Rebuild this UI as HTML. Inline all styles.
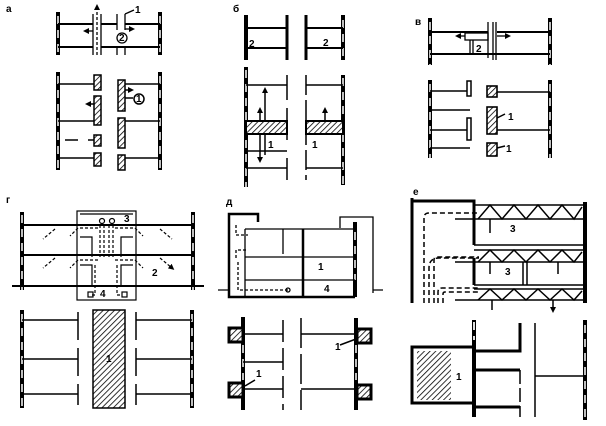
<!DOCTYPE html>
<html><head><meta charset="utf-8"><style>
html,body{margin:0;padding:0;background:#fff;width:606px;height:426px;overflow:hidden}
svg{display:block}
text{font-family:"Liberation Sans",sans-serif;font-weight:bold;font-size:10px;fill:#000}
</style></head><body>
<svg width="606" height="426" viewBox="0 0 606 426" xmlns="http://www.w3.org/2000/svg">
<defs>
<pattern id="h" width="4" height="4" patternUnits="userSpaceOnUse" patternTransform="rotate(45)">
<rect width="4" height="4" fill="#fff"/><line x1="0" y1="0" x2="0" y2="4" stroke="#000" stroke-width="1.6"/></pattern>
<marker id="a" markerWidth="6" markerHeight="6" refX="3" refY="3" orient="auto" markerUnits="userSpaceOnUse"><path d="M0,0L6,3L0,6z" fill="#000"/></marker>
</defs>
<g stroke="#000" fill="none">
<g stroke-width="4">
<line x1="58" y1="12" x2="58" y2="55"/><line x1="160" y1="12" x2="160" y2="55"/>
<line x1="58" y1="72" x2="58" y2="170"/><line x1="160" y1="72" x2="160" y2="170"/>
<line x1="246" y1="15" x2="246" y2="60"/><line x1="343" y1="15" x2="343" y2="60"/>
<line x1="246" y1="67" x2="246" y2="187"/><line x1="343" y1="75" x2="343" y2="185"/>
<line x1="430" y1="18" x2="430" y2="65"/><line x1="550" y1="18" x2="550" y2="65"/>
<line x1="430" y1="80" x2="430" y2="158"/><line x1="550" y1="80" x2="550" y2="158"/>
<line x1="22" y1="212" x2="22" y2="290"/><line x1="193" y1="212" x2="193" y2="290"/>
<line x1="22" y1="310" x2="22" y2="408"/><line x1="192" y1="310" x2="192" y2="408"/>
<line x1="355" y1="222" x2="355" y2="297"/>
<line x1="243" y1="317" x2="243" y2="410"/><line x1="356" y1="318" x2="356" y2="410"/>
<line x1="585" y1="202" x2="585" y2="303"/><line x1="585" y1="320" x2="585" y2="420"/>
<line x1="474" y1="320" x2="474" y2="417"/>
</g>
<g stroke="#fff" stroke-width="1.5" stroke-dasharray="8 6">
<line x1="58" y1="16" x2="58" y2="55"/><line x1="160" y1="16" x2="160" y2="55"/>
<line x1="58" y1="76" x2="58" y2="170"/><line x1="160" y1="76" x2="160" y2="170"/>
<line x1="343" y1="20" x2="343" y2="60"/><line x1="246" y1="70" x2="246" y2="187"/><line x1="343" y1="78" x2="343" y2="185"/>
<line x1="430" y1="22" x2="430" y2="65"/><line x1="550" y1="22" x2="550" y2="65"/>
<line x1="430" y1="84" x2="430" y2="158"/><line x1="550" y1="84" x2="550" y2="158"/>
<line x1="22" y1="215" x2="22" y2="290"/><line x1="193" y1="215" x2="193" y2="290"/>
<line x1="22" y1="314" x2="22" y2="408"/><line x1="192" y1="314" x2="192" y2="408"/>
<line x1="355" y1="232" x2="355" y2="280"/><line x1="243" y1="345" x2="243" y2="380"/><line x1="356" y1="345" x2="356" y2="380"/>
<line x1="585" y1="325" x2="585" y2="420"/><line x1="474" y1="322" x2="474" y2="340"/>
</g>
<g stroke-width="2"><line x1="58" y1="24" x2="93" y2="24"/><line x1="101" y1="24" x2="117" y2="24"/><line x1="125" y1="24" x2="160" y2="24"/>
<line x1="58" y1="47" x2="93" y2="47"/><line x1="101" y1="47" x2="160" y2="47"/></g>
<g stroke-width="1.3"><line x1="93" y1="14" x2="93" y2="55"/><line x1="101" y1="14" x2="101" y2="55"/>
<line x1="117" y1="14" x2="117" y2="30"/><line x1="125" y1="14" x2="125" y2="30"/><line x1="117" y1="48" x2="117" y2="55"/><line x1="125" y1="48" x2="125" y2="55"/>
<line x1="97" y1="55" x2="97" y2="7" stroke-dasharray="3 2" marker-end="url(#a)"/>
<line x1="93" y1="31" x2="86" y2="31" marker-end="url(#a)"/><line x1="125" y1="29" x2="132" y2="29" marker-end="url(#a)"/>
<circle cx="122" cy="38" r="5"/><line x1="125" y1="14" x2="134" y2="10"/></g>
<g stroke-width="1.5"><line x1="58" y1="84" x2="94" y2="84"/><line x1="58" y1="121" x2="94" y2="121"/><line x1="65" y1="140" x2="78" y2="140"/><line x1="88" y1="140" x2="94" y2="140"/><line x1="58" y1="158" x2="94" y2="158"/>
<line x1="125" y1="84" x2="160" y2="84"/><line x1="125" y1="121" x2="160" y2="121"/><line x1="125" y1="158" x2="160" y2="158"/>
<line x1="94" y1="104" x2="88" y2="104" marker-end="url(#a)"/><line x1="125" y1="90" x2="131" y2="90" marker-end="url(#a)"/><line x1="125" y1="98" x2="133" y2="98"/><circle cx="139" cy="99" r="5"/></g>
<g fill="url(#h)" stroke-width="1.5">
<rect x="94" y="75" width="7" height="15"/><rect x="94" y="96" width="7" height="29"/><rect x="94" y="135" width="7" height="11"/><rect x="94" y="153" width="7" height="13"/>
<rect x="118" y="80" width="7" height="31"/><rect x="118" y="118" width="7" height="30"/><rect x="118" y="155" width="7" height="15"/></g>
<g stroke-width="2"><line x1="246" y1="28" x2="287" y2="28"/><line x1="246" y1="48" x2="287" y2="48"/><line x1="306" y1="28" x2="343" y2="28"/><line x1="306" y1="48" x2="343" y2="48"/></g>
<g stroke-width="3"><line x1="287" y1="15" x2="287" y2="60"/><line x1="306" y1="15" x2="306" y2="60"/></g>
<g stroke-width="1.5"><line x1="246" y1="85" x2="287" y2="85"/><line x1="246" y1="151" x2="287" y2="151"/><line x1="246" y1="168" x2="287" y2="168"/>
<line x1="306" y1="85" x2="343" y2="85"/><line x1="306" y1="168" x2="343" y2="168"/>
<line x1="287" y1="75" x2="287" y2="100"/><line x1="287" y1="108" x2="287" y2="140"/><line x1="287" y1="158" x2="287" y2="180"/><line x1="306" y1="75" x2="306" y2="180" stroke-dasharray="20 5"/>
<line x1="265" y1="155" x2="265" y2="90" marker-end="url(#a)"/><line x1="260" y1="120" x2="260" y2="110" marker-end="url(#a)"/><line x1="260" y1="134" x2="260" y2="160" marker-end="url(#a)"/><line x1="325" y1="120" x2="325" y2="110" marker-end="url(#a)"/></g>
<rect x="246" y="121" width="41" height="13" fill="url(#h)" stroke-width="2"/><rect x="306" y="121" width="37" height="13" fill="url(#h)" stroke-width="2"/>
<g stroke-width="2"><line x1="430" y1="32" x2="488" y2="32"/><line x1="497" y1="32" x2="550" y2="32"/><line x1="430" y1="54" x2="550" y2="54"/></g>
<g stroke-width="1.3"><line x1="488" y1="22" x2="488" y2="58"/><line x1="493" y1="22" x2="493" y2="60"/><line x1="496" y1="22" x2="496" y2="60"/>
<rect x="465" y="33" width="23" height="7"/><line x1="470" y1="40" x2="470" y2="54"/><line x1="473" y1="40" x2="473" y2="54"/>
<line x1="465" y1="36" x2="458" y2="36" marker-end="url(#a)"/><line x1="497" y1="36" x2="508" y2="36" marker-end="url(#a)"/></g>
<g stroke-width="1.5"><line x1="430" y1="91" x2="467" y2="91"/><line x1="430" y1="110" x2="470" y2="110"/><line x1="430" y1="130" x2="467" y2="130"/><line x1="430" y1="148" x2="470" y2="148"/>
<line x1="497" y1="92" x2="550" y2="92"/><line x1="497" y1="130" x2="550" y2="130"/>
<rect x="467" y="81" width="4" height="15"/><rect x="467" y="118" width="4" height="22"/>
<line x1="497" y1="118" x2="505" y2="114"/><line x1="497" y1="148" x2="505" y2="146"/></g>
<g fill="url(#h)" stroke-width="1.6"><rect x="487" y="86" width="10" height="11"/><rect x="487" y="107" width="10" height="27"/><rect x="487" y="143" width="10" height="13"/></g>
<g stroke-width="2"><line x1="22" y1="225" x2="193" y2="225"/><line x1="22" y1="255" x2="193" y2="255"/><line x1="12" y1="286" x2="204" y2="286"/></g>
<g stroke-width="1.2"><rect x="77" y="211" width="59" height="89"/><line x1="80" y1="214" x2="133" y2="214"/>
<path d="M100 225v32M104 225v32M109 225v32M113 225v32" stroke-dasharray="3 2"/>
<path d="M80 237h12v20M133 237h-12v20M80 265h12v20M133 265h-12v20"/>
<path d="M98 228h-20l-8 8M115 228h20l8 8M98 260h-20l-8 8M115 260h20l8 8M95 265v30h-5M117 265v30h5M55 229l-12 10M160 229l12 10M55 258l-12 10M160 258l12 10" stroke-dasharray="3 2" marker-end="url(#a)"/>
<circle cx="102" cy="221" r="2.5"/><circle cx="112" cy="221" r="2.5"/><rect x="88" y="292" width="5" height="5"/><rect x="122" y="292" width="5" height="5"/></g>
<g stroke-width="1.5"><line x1="22" y1="320" x2="78" y2="320"/><line x1="22" y1="359" x2="78" y2="359"/><line x1="22" y1="394" x2="78" y2="394"/>
<line x1="136" y1="320" x2="192" y2="320"/><line x1="136" y1="359" x2="192" y2="359"/><line x1="136" y1="394" x2="192" y2="394"/>
<line x1="78" y1="312" x2="78" y2="405" stroke-dasharray="28 8"/><line x1="136" y1="312" x2="136" y2="405" stroke-dasharray="28 8"/></g>
<rect x="93" y="310" width="32" height="98" fill="url(#h)" stroke-width="1.5"/>
<g stroke-width="2.5"><path d="M258 222V214H229V297H355M303 229V297"/></g>
<g stroke-width="1.3"><line x1="245" y1="229" x2="355" y2="229"/><line x1="245" y1="257" x2="355" y2="257"/><line x1="245" y1="280" x2="355" y2="280"/><line x1="245" y1="229" x2="245" y2="297"/>
<line x1="283" y1="229" x2="283" y2="254"/><path d="M340 228V217H373V293M373 290h10M228 290h-10"/>
<path d="M236 225v10h12M236 258v-8h12M238 262v28h50" stroke-dasharray="3 2"/><circle cx="288" cy="290" r="2"/></g>
<g stroke-width="1.5"><line x1="243" y1="334" x2="283" y2="334"/><line x1="243" y1="362" x2="283" y2="362"/><line x1="243" y1="389" x2="283" y2="389"/>
<line x1="283" y1="320" x2="283" y2="410" stroke-dasharray="22 6"/><line x1="301" y1="318" x2="301" y2="410" stroke-dasharray="30 6"/>
<line x1="301" y1="334" x2="356" y2="334"/><line x1="301" y1="389" x2="356" y2="389"/><line x1="255" y1="380" x2="245" y2="386"/><line x1="340" y1="345" x2="356" y2="339"/></g>
<g fill="url(#h)" stroke-width="3"><rect x="229" y="328" width="14" height="14"/><rect x="229" y="383" width="14" height="14"/><rect x="357" y="329" width="14" height="14"/><rect x="357" y="385" width="14" height="14"/></g>
<g stroke-width="3"><path d="M412 198V303M412 201H474V245M474 258V285"/></g>
<g stroke-width="1.5"><line x1="474" y1="205" x2="585" y2="205"/><line x1="455" y1="219" x2="585" y2="219"/><line x1="474" y1="245" x2="585" y2="245"/>
<line x1="474" y1="250" x2="585" y2="250"/><line x1="455" y1="262" x2="585" y2="262"/><line x1="474" y1="285" x2="585" y2="285"/><line x1="474" y1="289" x2="585" y2="289"/><line x1="455" y1="300" x2="585" y2="300"/>
<path d="M478 219l12-14 12 14 12-14 12 14 12-14 12 14 12-14 12 14 8-12M478 262l12-12 12 12 12-12 12 12 12-12 12 12 12-12 12 12 8-10M478 300l12-11 12 11 12-11 12 11 12-11 12 11 12-11 12 11 8-9"/>
<line x1="523" y1="262" x2="523" y2="285"/><line x1="527" y1="262" x2="527" y2="285"/>
<path d="M490 219v14M490 262v12M558 262v12M492 300v10M553 300v10" marker-end="url(#a)"/>
<path d="M424 303V218q0-5 5-5h50M429 303V268q0-10 10-10h40M434 303V260q0-3 3-3h42M438 303V292q0-4 4-4h36M443 303V294q0-2 2-2h34" stroke-dasharray="5 3"/></g>
<g stroke-width="3"><path d="M474 347H412V403H474M474 351H520V323M474 370H520M474 407H520"/></g>
<g stroke-width="1.5"><line x1="520" y1="370" x2="520" y2="417" stroke-dasharray="14 4"/><line x1="535" y1="323" x2="535" y2="417"/><line x1="535" y1="376" x2="585" y2="376"/></g>
<rect x="417" y="351" width="34" height="49" fill="url(#h)" stroke="none"/>
</g>
<g stroke="#fff" stroke-width="1.5" stroke-dasharray="8 6"><line x1="474" y1="322" x2="474" y2="340"/></g>
<text x="6" y="12" font-size="7">а</text><text x="233" y="12" font-size="7">б</text><text x="415" y="25" font-size="7">в</text>
<text x="6" y="203" font-size="7">г</text><text x="226" y="205" font-size="7">д</text><text x="413" y="195" font-size="7">е</text>
<text x="135" y="13">1</text><text x="119" y="41" font-size="7">2</text><text x="136" y="102" font-size="7">1</text>
<text x="249" y="47">2</text><text x="323" y="46">2</text><text x="268" y="148">1</text><text x="312" y="148">1</text>
<text x="476" y="52">2</text><text x="508" y="120">1</text><text x="506" y="152">1</text>
<text x="124" y="222">3</text><text x="152" y="276">2</text><text x="100" y="297">4</text><text x="106" y="362" fill="#fff">1</text>
<text x="318" y="270">1</text><text x="324" y="292">4</text><text x="256" y="377">1</text><text x="335" y="350">1</text>
<text x="510" y="232">3</text><text x="505" y="275">3</text><text x="456" y="380">1</text>
</svg>
</body></html>
